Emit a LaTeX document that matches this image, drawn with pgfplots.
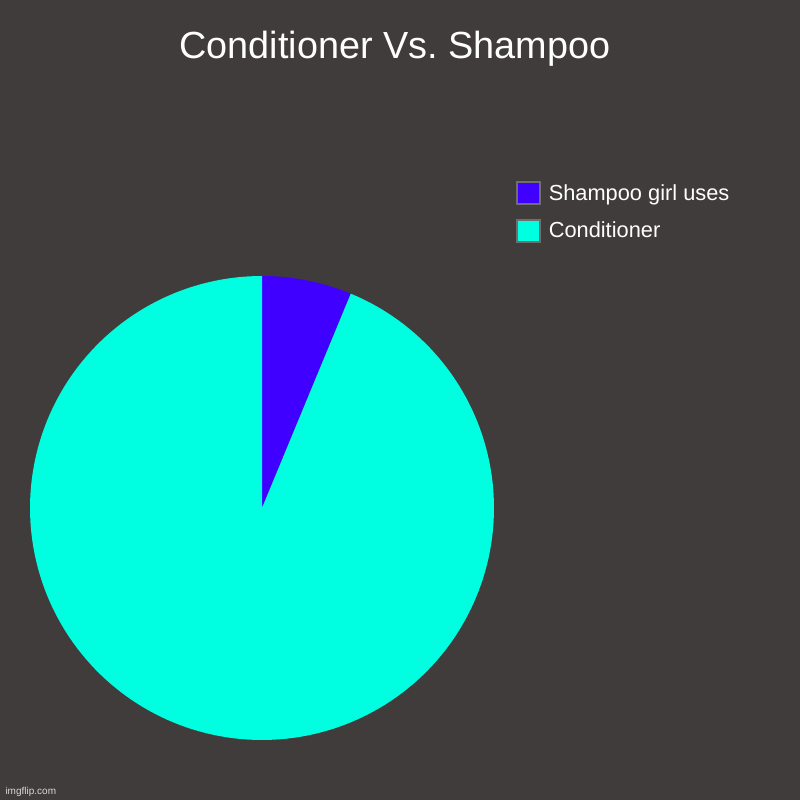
\documentclass[border=0pt]{standalone}
\usepackage{pgfplots}
\pgfplotsset{compat=1.18}
\usepackage{fontspec}
\setmainfont{Liberation Sans}
\definecolor{bg}{RGB}{64,60,59}
\definecolor{shampoo}{RGB}{64,0,255}
\definecolor{cond}{RGB}{0,255,225}
\definecolor{boxgray}{RGB}{110,110,110}
% shares in percent
\def\shampoo{6.25}
\def\conditioner{93.75}
\begin{document}
\begin{tikzpicture}
\fill[bg] (0bp,0bp) rectangle (800bp,800bp);
\node[text=white, font=\fontsize{37.8bp}{44bp}\selectfont] at (395bp,751bp) {Conditioner Vs.\ Shampoo};
\node[text=white!80!bg, font=\fontsize{10bp}{12bp}\selectfont, anchor=west] at (2bp,8bp) {imgflip.com};
\begin{axis}[
  at={(262bp,292bp)}, anchor=center,
  width=464bp, height=464bp, scale only axis,
  xmin=-1, xmax=1, ymin=-1, ymax=1,
  hide axis,
  legend style={at={(1.047,1.205)}, anchor=north west, draw=none, fill=none,
    text=white, font=\fontsize{21.8bp}{26bp}\selectfont,
    row sep=14bp, inner sep=0pt, cells={anchor=west, text=white},
    /tikz/every odd column/.append style={column sep=6bp}},
  legend image code/.code={\draw[#1, draw=boxgray, line width=1.8bp] (0bp,-11bp) rectangle (23bp,11bp);},
]
\addplot[fill=shampoo, draw=none, domain={90-3.6*\shampoo}:90, samples=40, variable=\t]
  ({cos(t)},{sin(t)}) -- (axis cs:0,0) -- cycle;
\addlegendentry{Shampoo girl uses}
\addplot[fill=cond, draw=none, domain={90-3.6*\shampoo-3.6*\conditioner}:{90-3.6*\shampoo}, samples=200, variable=\t]
  ({cos(t)},{sin(t)}) -- (axis cs:0,0) -- cycle;
\addlegendentry{Conditioner}
\end{axis}
\end{tikzpicture}
\end{document}
